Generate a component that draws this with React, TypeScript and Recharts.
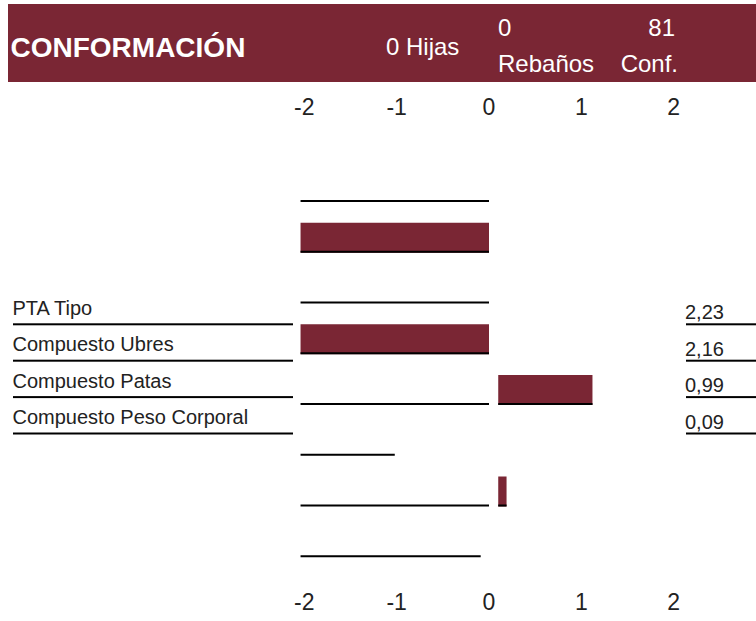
import { Bar, BarChart, XAxis, YAxis } from "recharts";

const FONT = '"Liberation Sans", Arial, Helvetica, sans-serif';
const MAROON = "#7A2634";
const INK = "#222222";

// header figures
const HEADER_TITLE = "CONFORMACIÓN";
const HIJAS = 0;
const REBANOS = 0;
const CONF = 81;

// trait table
const TRAITS = ["PTA Tipo", "Compuesto Ubres", "Compuesto Patas", "Compuesto Peso Corporal"];
const TRAIT_VALUES = [2.23, 2.16, 0.99, 0.09];

// chart rows (two per trait) and the ranges drawn in them
const ROWS = ["tipo-a", "tipo-b", "ubres-a", "ubres-b", "patas-a", "patas-b", "peso-a", "peso-b"];
const FILL_RANGES: ([number, number] | null)[] = [
  null,
  [-2.04, 0],
  null,
  [-2.04, 0],
  [0.1, 1.12],
  null,
  [0.1, 0.19],
  null,
];
const RULE_RANGES: ([number, number] | null)[] = [
  [-2.04, 0],
  null,
  [-2.04, 0],
  null,
  [-2.04, 0],
  [-2.04, -1.02],
  [-2.04, 0],
  [-2.04, -0.09],
];
const TICKS = [-2, -1, 0, 1, 2];

const data = ROWS.map((row, i) => ({ row, fill: FILL_RANGES[i], rule: RULE_RANGES[i] }));

const comma = (v: number) => v.toFixed(2).replace(".", ",");

function FillShape(p: any) {
  const { x, y, width, height } = p;
  if (!(width > 0) || !(height > 0)) return null;
  return (
    <g>
      <rect x={x} y={y} width={width} height={height} fill={MAROON} />
      <rect x={x} y={y + height - 2} width={width} height={2} fill="#000" />
    </g>
  );
}

function RuleShape(p: any) {
  const { x, y, width, height } = p;
  if (!(width > 0) || !(height > 0)) return null;
  return <rect x={x} y={y} width={width} height={height} fill="#000" />;
}

const NoShape = () => null;

const tickStyle = { fontSize: 23, fill: INK, fontFamily: FONT };

export default function App() {
  return (
    <div style={{ position: "absolute", left: 0, top: 0, width: 756, height: 621, background: "#fff" }}>
      <div style={{ position: "absolute", left: 0, top: 0 }}>
        <BarChart
          width={756}
          height={621}
          data={data}
          layout="vertical"
          barGap={-2}
          margin={{ top: 102, right: 73, bottom: 13, left: 295 }}
        >
          <XAxis
            xAxisId="top"
            orientation="top"
            type="number"
            domain={[-2.1, 2.1]}
            ticks={TICKS}
            axisLine={false}
            tickLine={false}
            tickSize={0}
            tickMargin={47}
            height={60}
            tick={tickStyle}
          />
          <XAxis
            xAxisId="bottom"
            orientation="bottom"
            type="number"
            domain={[-2.1, 2.1]}
            ticks={TICKS}
            axisLine={false}
            tickLine={false}
            tickSize={0}
            tickMargin={26}
            height={40}
            tick={tickStyle}
          />
          <YAxis type="category" dataKey="row" hide />
          <Bar xAxisId="bottom" dataKey="fill" barSize={30} shape={FillShape} isAnimationActive={false} />
          <Bar xAxisId="bottom" dataKey="rule" barSize={2} shape={RuleShape} isAnimationActive={false} />
          <Bar xAxisId="top" dataKey="rule" barSize={2} shape={NoShape} isAnimationActive={false} />
        </BarChart>
      </div>
      <svg
        width={756}
        height={621}
        style={{ position: "absolute", left: 0, top: 0, pointerEvents: "none" }}
        fontFamily={FONT}
      >
        <rect x={8} y={4} width={748} height={78} fill={MAROON} />
        <text x={10.5} y={57} fill="#fff" fontSize={28} fontWeight="bold">
          {HEADER_TITLE}
        </text>
        <text x={386} y={55} fill="#fff" fontSize={24}>
          {`${HIJAS} Hijas`}
        </text>
        <text x={498} y={36} fill="#fff" fontSize={24}>
          {REBANOS}
        </text>
        <text x={498} y={72} fill="#fff" fontSize={24}>
          Rebaños
        </text>
        <text x={675} y={36} fill="#fff" fontSize={24} textAnchor="end">
          {CONF}
        </text>
        <text x={678} y={72} fill="#fff" fontSize={24} textAnchor="end">
          Conf.
        </text>
        {TRAITS.map((t, i) => {
          const line = 324.3 + i * 36.4;
          return (
            <g key={t}>
              <text x={12.5} y={line - 9.3} fill={INK} fontSize={20}>
                {t}
              </text>
              <rect x={13} y={line - 1} width={280} height={2} fill="#000" />
              <text x={685} y={line - 5} fill={INK} fontSize={20}>
                {comma(TRAIT_VALUES[i])}
              </text>
              <rect x={686} y={line - 1} width={70} height={2} fill="#000" />
            </g>
          );
        })}
      </svg>
    </div>
  );
}
